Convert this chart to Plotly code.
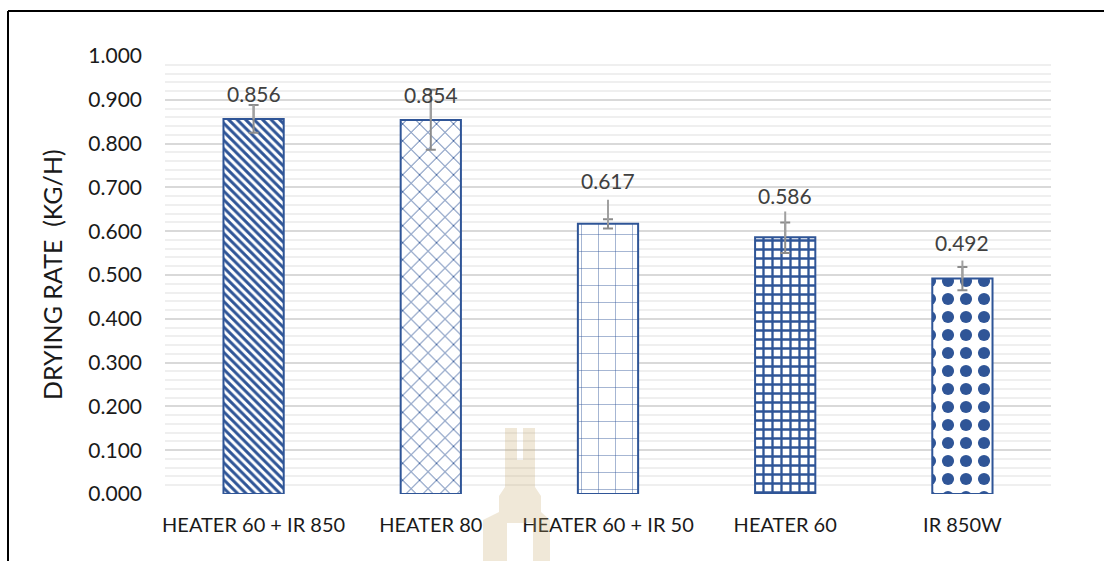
import plotly.graph_objects as go

# Drying rate per drying method
categories = ["HEATER 60 + IR 850", "HEATER 80", "HEATER 60 + IR 50", "HEATER 60", "IR 850W"]
drying_rate = [0.856, 0.854, 0.617, 0.586, 0.492]

# Standard deviation bars (capped), upper/lower
sd_plus = [0.032, 0.069, 0.010, 0.034, 0.026]
sd_minus = [0.031, 0.068, 0.011, 0.036, 0.027]
# Upper range line (no cap)
range_plus = [0.032, 0.070, 0.055, 0.059, 0.041]

y_ticks = [i / 10 for i in range(11)]
y_tick_text = [f"{t:.3f}" for t in y_ticks]

# Layout geometry (px)
W, H = 1104, 561
L, R, T, B = 165, 53, 56, 67
PW, PH = W - L - R, H - T - B


def px_x(px):
    return (px - L) / PW


def px_y(py):
    return (H - B - py) / PH


BLUE = "#2F5597"
FONT = "Lato"

fig = go.Figure()

fig.add_trace(go.Bar(
    x=categories,
    y=drying_rate,
    width=0.34,
    marker=dict(
        color="white",
        line=dict(color=BLUE, width=2),
        pattern=dict(
            shape=["\\", "x", "+", "+", "."],
            size=[6, 12, 17, 9, 18],
            solidity=[0.5, 0.14, 0.05, 0.45, 0.36],
            fgcolor=BLUE,
            bgcolor="white",
            fgopacity=1,
            fillmode="replace",
        ),
    ),
    error_y=dict(type="data", symmetric=False, array=sd_plus, arrayminus=sd_minus,
                 color="#8c8c8c", thickness=2, width=5),
    showlegend=False,
    hoverinfo="skip",
))

fig.add_trace(go.Scatter(
    x=categories,
    y=drying_rate,
    mode="markers",
    marker=dict(opacity=0, size=1),
    error_y=dict(type="data", symmetric=False, array=range_plus, arrayminus=[0] * 5,
                 color="#a0a0a0", thickness=2, width=0),
    showlegend=False,
    hoverinfo="skip",
))

# Value labels above bars
label_lift_px = [26, 25, 43, 42, 36]
for cat, v, lift in zip(categories, drying_rate, label_lift_px):
    fig.add_annotation(x=cat, y=v, text=f"{v:.3f}", showarrow=False,
                       yanchor="middle", yshift=lift,
                       font=dict(family=FONT, size=21, color="#404040"))

# Y axis title
fig.add_annotation(xref="paper", yref="paper", x=px_x(52), y=0.5,
                   text="DRYING RATE\u00a0\u00a0(KG/H)", textangle=-90, showarrow=False,
                   xanchor="center", yanchor="middle",
                   font=dict(family=FONT, size=25, color="#1a1a1a"))

# Frame lines (top and left)
fig.add_shape(type="line", xref="paper", yref="paper",
              x0=px_x(8), x1=px_x(W + 5), y0=px_y(11), y1=px_y(11),
              line=dict(color="black", width=2))
fig.add_shape(type="line", xref="paper", yref="paper",
              x0=px_x(8), x1=px_x(8), y0=px_y(11), y1=px_y(H + 5),
              line=dict(color="black", width=2))

# Faint emblem near the bottom centre
emblem = [(505, 428), (517, 428), (517, 460), (523, 460), (523, 428), (535, 428),
          (535, 487), (541, 496), (541, 512), (550, 520), (550, 561), (533, 561),
          (533, 523), (507, 523), (507, 561), (483, 561), (483, 520), (499, 512),
          (499, 496), (505, 487)]
path = "M " + " L ".join(f"{px_x(x):.5f},{px_y(y):.5f}" for x, y in emblem) + " Z"
fig.add_shape(type="path", xref="paper", yref="paper", path=path,
              fillcolor="rgba(196,165,105,0.26)", line=dict(width=0), layer="above")

fig.update_layout(
    width=W, height=H,
    margin=dict(l=L, r=R, t=T, b=B),
    paper_bgcolor="white",
    plot_bgcolor="white",
    font=dict(family=FONT, size=20, color="#262626"),
    bargap=0.66,
    xaxis=dict(
        showgrid=False, showline=False, zeroline=False,
        ticks="", ticklabelstandoff=17,
        tickfont=dict(family=FONT, size=20, color="#1a1a1a"),
    ),
    yaxis=dict(
        range=[0, 1.0],
        tickvals=y_ticks, ticktext=y_tick_text,
        showgrid=True, gridcolor="#d9d9d9", gridwidth=1.5,
        zeroline=False, showline=False, ticks="",
        ticklabelstandoff=22,
        tickfont=dict(family=FONT, size=21, color="#1a1a1a"),
        minor=dict(dtick=0.02, tick0=0, showgrid=True, gridcolor="#efefef", gridwidth=1.5),
    ),
)

fig.write_html("out.html")
